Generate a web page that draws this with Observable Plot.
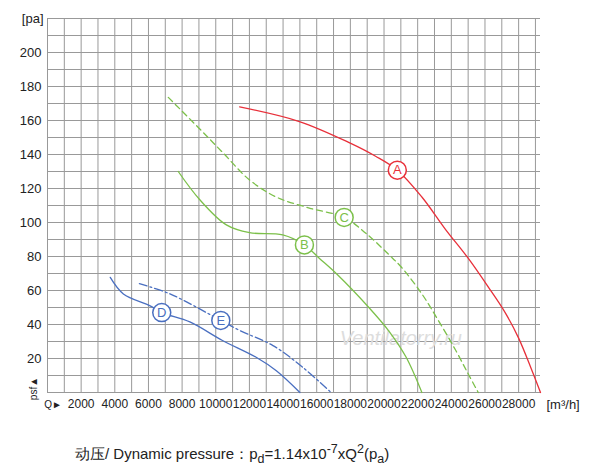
<!DOCTYPE html>
<html><head><meta charset="utf-8">
<script src="https://cdn.jsdelivr.net/npm/d3@7"></script>
<script src="https://cdn.jsdelivr.net/npm/@observablehq/plot@0.6"></script>
<style>body{margin:0;background:#fff;font-family:"Liberation Sans",Arial,sans-serif}
#cap{font-size:15px;margin:30px 0 0 75px;color:#222}</style>
</head><body><div id="chart"></div>
<div id="cap">动压/ Dynamic pressure：p<sub>d</sub>=1.14x10<sup>-7</sup>xQ<sup>2</sup>(p<sub>a</sub>)</div>
<script>
const curveA = [[11420,168],[14970,159.4],[17930,147],[19500,139],[20790,130.8],[22250,115],[23650,96],[25000,79],[26200,62],[27200,47],[28000,32],[28750,14],[29300,0]];
const curveC = [[7180,173.6],[9050,155],[10430,141],[12010,125],[13590,115],[15560,108.5],[17630,103],[18920,93.7],[20300,81],[21050,73.5],[22250,58],[23250,42],[24250,25],[25000,11],[25600,0]];
const curveB = [[7770,130],[9050,113.4],[10630,98.6],[12010,94],[13980,92.7],[15270,86.8],[16150,79],[17160,70],[19100,50],[20300,36],[21300,21],[22250,0]];
const curveD = [[3730,67.7],[4510,58],[6100,51],[6790,47],[8460,41.5],[10400,30.6],[12400,20.7],[13600,12.8],[15000,0]];
const curveE = [[5460,64],[7280,58],[10300,42.4],[11420,36.5],[13400,27.6],[15170,14.8],[16850,0]];
const labels = [{t:"A",x:20790,y:130.8,c:"#e8303a"},{t:"C",x:17630,y:103,c:"#7cc04a"},{t:"B",x:15270,y:86.8,c:"#7cc04a"},{t:"D",x:6790,y:47,c:"#4a6fc0"},{t:"E",x:10300,y:42.4,c:"#4a6fc0"}];
const xTicks = d3.range(2000,28001,2000);
const yTicks = d3.range(20,201,20);
const toObj = a => a.map(([x,y])=>({x,y}));
const plot = Plot.plot({
  width:600, height:412, marginLeft:47, marginRight:60, marginTop:18, marginBottom:20,
  style:{fontFamily:"Liberation Sans, Arial, sans-serif", fontSize:"13px"},
  x:{domain:[0,29300], ticks:[], label:null},
  y:{domain:[0,220], ticks:[], label:null},
  marks:[
    Plot.gridX(d3.range(0,29001,1000),{stroke:"#999",strokeOpacity:1,strokeWidth:1}),
    Plot.gridY(d3.range(0,221,10),{stroke:"#999",strokeOpacity:1,strokeWidth:1}),
    Plot.text(xTicks,{x:d=>d,y:0,text:d=>String(d),dy:12,fontSize:12,fill:"#222"}),
    Plot.text(yTicks,{x:0,y:d=>d,text:d=>String(d),dx:-6,textAnchor:"end",fontSize:13,fill:"#222"}),
    Plot.text(["[pa]"],{x:0,y:220,text:d=>d,dx:-4,textAnchor:"end",fontSize:13,fill:"#222"}),
    Plot.text(["Q►"],{x:2000,y:0,text:d=>d,dy:12,dx:-28,fontSize:10,fill:"#222"}),
    Plot.text(["psf▲"],{x:0,y:0,text:d=>d,dx:-14,dy:-4,rotate:-90,fontSize:10,fill:"#222"}),
    Plot.text(["[m³/h]"],{x:29300,y:0,text:d=>d,dx:6,dy:12,textAnchor:"start",fontSize:13,fill:"#222"}),
    Plot.text(["Ventilatorry.ru"],{x:21000,y:32,text:d=>d,fontSize:20,fill:"#ddd",fontStyle:"italic"}),
    Plot.line(toObj(curveA),{x:"x",y:"y",stroke:"#e8303a",strokeWidth:1.3,curve:"catmull-rom"}),
    Plot.line(toObj(curveC),{x:"x",y:"y",stroke:"#7cc04a",strokeWidth:1.3,strokeDasharray:"6,4",curve:"catmull-rom"}),
    Plot.line(toObj(curveB),{x:"x",y:"y",stroke:"#7cc04a",strokeWidth:1.3,curve:"catmull-rom"}),
    Plot.line(toObj(curveD),{x:"x",y:"y",stroke:"#4a6fc0",strokeWidth:1.3,curve:"catmull-rom"}),
    Plot.line(toObj(curveE),{x:"x",y:"y",stroke:"#4a6fc0",strokeWidth:1.3,strokeDasharray:"8,3,2,3",curve:"catmull-rom"}),
    Plot.dot(labels,{x:"x",y:"y",r:9,fill:"white",stroke:"c",strokeWidth:1.5}),
    Plot.text(labels,{x:"x",y:"y",text:"t",fill:"c",fontSize:13})
  ]
});
document.getElementById("chart").appendChild(plot);
</script></body></html>
